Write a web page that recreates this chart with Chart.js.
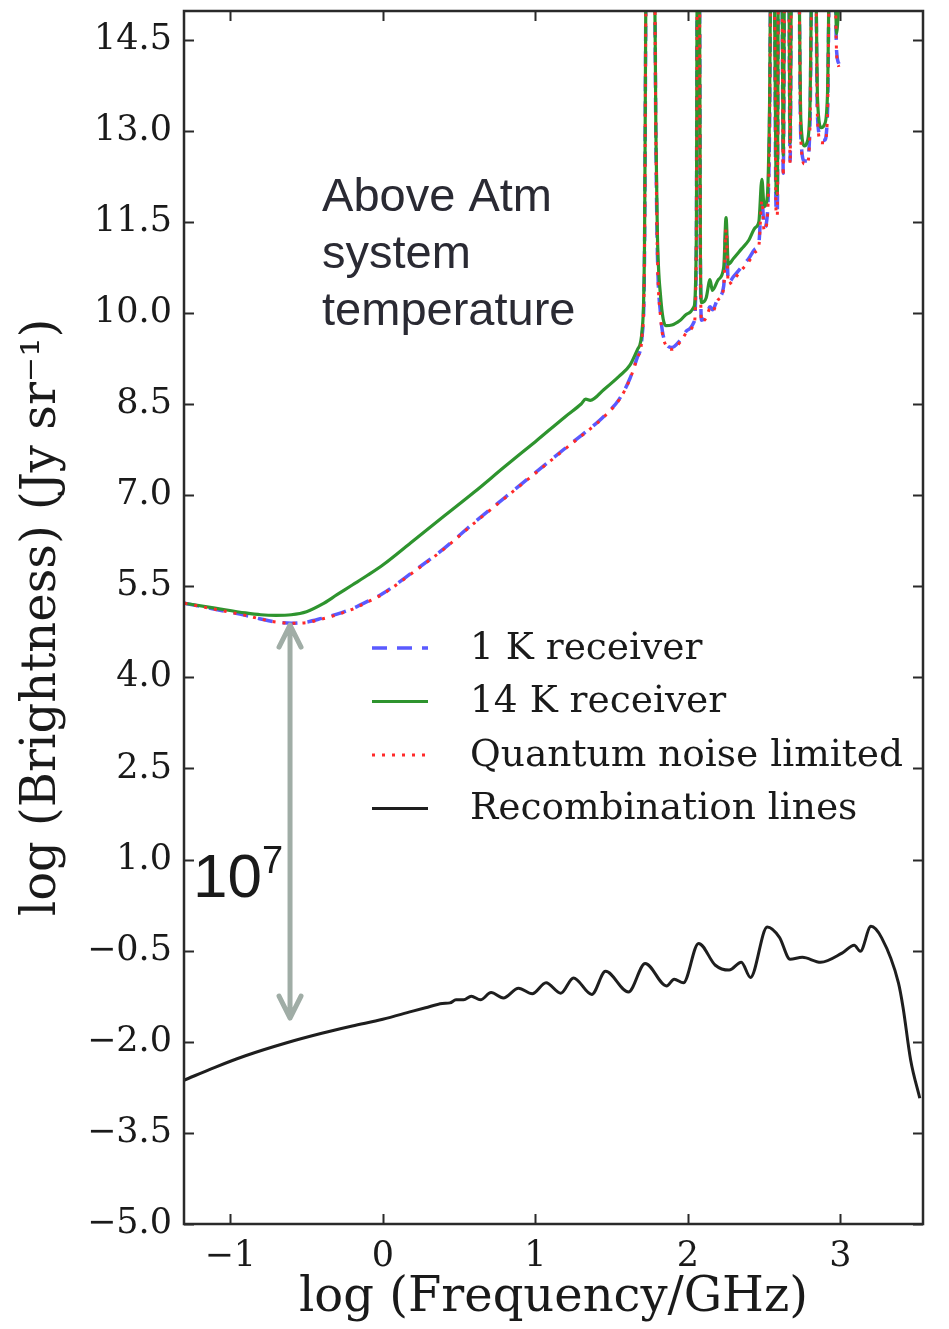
<!DOCTYPE html>
<html>
<head>
<meta charset="utf-8">
<script src="https://cdn.jsdelivr.net/npm/chart.js@4.4.1/dist/chart.umd.min.js"></script>
<style>
  html, body { margin: 0; padding: 0; background: #ffffff; }
  #wrap { width: 949px; height: 1329px; }
</style>
</head>
<body>
<div id="wrap"><canvas id="chart" width="949" height="1329"></canvas></div>
<script>
// log10 of frequency in GHz, shared by the three noise curves
const logFreq = [
  -1.30, -1.10, -0.90, -0.80, -0.70, -0.60, -0.50, -0.40, -0.30, -0.20, -0.10, 0.00,
  0.20, 0.40, 0.60, 0.80, 1.00, 1.20, 1.30, 1.33, 1.36, 1.45, 1.55, 1.62, 1.67, 1.70,
  1.715, 1.728, 1.78, 1.79, 1.80, 1.82, 1.855, 1.895, 1.95, 2.00, 2.04, 2.055, 2.062,
  2.075, 2.082, 2.09, 2.12, 2.145, 2.16, 2.20, 2.235, 2.25, 2.265, 2.30, 2.35, 2.40,
  2.44, 2.465, 2.485, 2.50, 2.52, 2.535, 2.545, 2.565, 2.578, 2.586, 2.594, 2.615,
  2.625, 2.635, 2.66, 2.67, 2.68, 2.725, 2.74, 2.765, 2.78, 2.80, 2.815, 2.835, 2.85,
  2.875, 2.895, 2.915, 2.93, 2.96, 2.975, 2.99
];

// log10 brightness sensitivity (Jy/sr), 1 K receiver
const sys1K = [
  5.22, 5.12, 5.02, 4.96, 4.91, 4.89, 4.91, 4.97, 5.04, 5.13, 5.25, 5.38,
  5.74, 6.12, 6.55, 6.96, 7.37, 7.78, 7.98, 8.04, 8.10, 8.30, 8.58, 8.92, 9.28, 9.63,
  10.8, 16, 16, 12.9, 11.0, 10.0, 9.50, 9.43, 9.55, 9.72, 9.85, 11.0, 16,
  16, 10.8, 9.88, 9.95, 10.10, 10.05, 10.25, 10.45, 11.40, 10.50, 10.60, 10.75, 10.90,
  11.05, 11.15, 11.90, 11.40, 11.60, 13.0, 16, 16, 11.70, 11.65, 16, 16,
  12.30, 16, 16, 12.50, 16, 16, 12.90, 12.50, 12.50, 13.10, 16, 16, 13.20,
  12.85, 12.84, 13.30, 16, 16, 14.30, 14.10
];

// 14 K receiver
const sys14K = [
  5.22, 5.14, 5.06, 5.03, 5.02, 5.03, 5.08, 5.20, 5.36, 5.52, 5.68, 5.85,
  6.25, 6.65, 7.05, 7.47, 7.88, 8.30, 8.50, 8.58, 8.56, 8.74, 8.96, 9.14, 9.40, 9.72,
  11.0, 16, 16, 13.0, 11.3, 10.3, 9.79, 9.80, 9.88, 9.99, 10.10, 11.2, 16,
  16, 11.0, 10.17, 10.25, 10.55, 10.37, 10.55, 10.75, 11.57, 10.80, 10.90, 11.05, 11.20,
  11.40, 11.50, 12.20, 11.75, 11.90, 13.4, 16, 16, 12.00, 11.95, 16, 16,
  12.60, 16, 16, 12.80, 16, 16, 13.20, 12.75, 12.80, 13.40, 16, 16, 13.50,
  13.05, 13.10, 13.60, 16, 16, 14.60, 15.20
];

// quantum noise limited receiver
const quantumLimit = [
  5.22, 5.12, 5.02, 4.96, 4.91, 4.89, 4.90, 4.96, 5.03, 5.12, 5.24, 5.37,
  5.73, 6.11, 6.54, 6.95, 7.36, 7.77, 7.97, 8.03, 8.09, 8.29, 8.57, 8.91, 9.27, 9.62,
  10.8, 16, 16, 12.85, 10.95, 9.95, 9.47, 9.40, 9.52, 9.69, 9.82, 11.0, 16,
  16, 10.8, 9.85, 9.92, 10.07, 10.02, 10.22, 10.42, 11.38, 10.47, 10.55, 10.70, 10.85,
  11.00, 11.10, 11.85, 11.35, 11.55, 12.95, 16, 16, 11.65, 11.60, 16, 16,
  12.25, 16, 16, 12.45, 16, 16, 12.85, 12.45, 12.45, 13.05, 16, 16, 13.15,
  12.80, 12.80, 13.25, 16, 16, 14.25, 14.05
];

// radio recombination line brightness
const recombLogFreq = [
  -1.30, -1.10, -0.90, -0.635, -0.40, -0.20, 0.00, 0.19, 0.28, 0.39, 0.44, 0.48, 0.53,
  0.58, 0.64, 0.71, 0.79, 0.89, 0.98, 1.07, 1.167, 1.25, 1.37, 1.46, 1.61, 1.72, 1.86,
  1.91, 1.97, 2.07, 2.18, 2.27, 2.35, 2.41, 2.52, 2.60, 2.67, 2.75, 2.87, 3.01, 3.09,
  3.13, 3.20, 3.27, 3.38, 3.41, 3.46, 3.52
];
const recombBright = [
  -2.63, -2.42, -2.23, -2.02, -1.86, -1.74, -1.63, -1.50, -1.44, -1.37, -1.36, -1.31, -1.31,
  -1.25, -1.31, -1.19, -1.28, -1.12, -1.21, -1.03, -1.20, -0.95, -1.22, -0.84, -1.18, -0.71, -1.08,
  -0.97, -1.03, -0.38, -0.74, -0.82, -0.69, -0.94, -0.11, -0.28, -0.64, -0.61, -0.69, -0.54, -0.41,
  -0.51, -0.10, -0.29, -1.03, -1.43, -2.30, -2.93
];

const seriesNames = ['1 K receiver', '14 K receiver', 'Quantum noise limited', 'Recombination lines'];
const xTicks = [-1, 0, 1, 2, 3];
const yTicks = [-5.0, -3.5, -2.0, -0.5, 1.0, 2.5, 4.0, 5.5, 7.0, 8.5, 10.0, 11.5, 13.0, 14.5];
const xRange = [-1.303, 3.541];
const yRange = [-5.0, 14.97];

// annotation anchors in data units
const noteLines = ['Above Atm', 'system', 'temperature'];
const noteAnchor = { x: -0.398, y: 11.67 };
const gapArrow = { x: -0.608, yTop: 4.86, yBottom: -1.61 };
const gapLabel = { base: '10', exp: '7', x: -1.244, y: 0.383 };

const INK = '#1a1a1a';
const SERIF = "'DejaVu Serif', serif";
const SANS = "'Liberation Sans', Arial, sans-serif";

const pairs = (xs, ys) => xs.map((x, i) => ({ x: x, y: ys[i] }));
const minus = s => s.replace('-', '\u2212');

// axes frame with inward ticks on all four sides
const frameTicks = {
  id: 'frameTicks',
  afterDatasetsDraw(chart) {
    const { ctx, chartArea: a, scales: { x, y } } = chart;
    const len = 10;
    ctx.save();
    ctx.strokeStyle = '#2a2a2a';
    ctx.lineWidth = 2;
    ctx.beginPath();
    xTicks.forEach(v => {
      const px = Math.round(x.getPixelForValue(v)) + 0.5;
      ctx.moveTo(px, a.bottom); ctx.lineTo(px, a.bottom - len);
      ctx.moveTo(px, a.top); ctx.lineTo(px, a.top + len);
    });
    yTicks.forEach(v => {
      const py = Math.round(y.getPixelForValue(v)) + 0.5;
      ctx.moveTo(a.left, py); ctx.lineTo(a.left + len, py);
      ctx.moveTo(a.right, py); ctx.lineTo(a.right - len, py);
    });
    ctx.stroke();
    ctx.lineWidth = 2.5;
    ctx.strokeRect(a.left, a.top, a.right - a.left, a.bottom - a.top);
    ctx.restore();
  }
};

// legend, text note and the vertical gap arrow
const overlays = {
  id: 'overlays',
  afterDraw(chart) {
    const { ctx, chartArea: a, scales: { x, y } } = chart;
    ctx.save();

    // legend
    const hx0 = a.left + 188, hx1 = a.left + 244, tx = a.left + 286;
    const row0 = a.top + 637, rowStep = 53.5;
    ctx.font = '37.5px ' + SERIF;
    ctx.textBaseline = 'middle';
    ctx.textAlign = 'left';
    chart.data.datasets.forEach((ds, i) => {
      const ry = row0 + i * rowStep;
      ctx.save();
      ctx.strokeStyle = ds.borderColor;
      ctx.lineWidth = ds.borderWidth;
      ctx.setLineDash(ds.borderDash || []);
      ctx.lineCap = 'butt';
      ctx.beginPath();
      ctx.moveTo(hx0, ry); ctx.lineTo(hx1, ry);
      ctx.stroke();
      ctx.restore();
      ctx.fillStyle = INK;
      ctx.fillText(ds.label, tx, ry + 1);
    });

    // text note
    ctx.font = '47px ' + SANS;
    ctx.fillStyle = '#2a2a33';
    ctx.textBaseline = 'alphabetic';
    const nx = x.getPixelForValue(noteAnchor.x), ny = y.getPixelForValue(noteAnchor.y);
    noteLines.forEach((t, i) => ctx.fillText(t, nx, ny + i * 57));

    // gap arrow
    const ax = x.getPixelForValue(gapArrow.x);
    const ay0 = y.getPixelForValue(gapArrow.yTop), ay1 = y.getPixelForValue(gapArrow.yBottom);
    ctx.strokeStyle = '#a0ada6';
    ctx.lineWidth = 5;
    ctx.lineCap = 'round';
    ctx.lineJoin = 'round';
    ctx.beginPath();
    ctx.moveTo(ax, ay0 + 2); ctx.lineTo(ax, ay1 - 2);
    ctx.moveTo(ax - 11, ay0 + 22); ctx.lineTo(ax, ay0); ctx.lineTo(ax + 11, ay0 + 22);
    ctx.moveTo(ax - 11, ay1 - 22); ctx.lineTo(ax, ay1); ctx.lineTo(ax + 11, ay1 - 22);
    ctx.stroke();

    // gap label
    const gx = x.getPixelForValue(gapLabel.x), gy = y.getPixelForValue(gapLabel.y);
    ctx.fillStyle = INK;
    ctx.font = '62px ' + SANS;
    ctx.fillText(gapLabel.base, gx, gy);
    const w = ctx.measureText(gapLabel.base).width;
    ctx.font = '38px ' + SANS;
    ctx.fillText(gapLabel.exp, gx + w, gy - 24);

    ctx.restore();
  }
};

new Chart(document.getElementById('chart'), {
  type: 'line',
  data: {
    datasets: [
      {
        label: seriesNames[0], data: pairs(logFreq, sys1K),
        borderColor: '#5a5aff', borderWidth: 3.5, borderDash: [15, 10], order: 4
      },
      {
        label: seriesNames[1], data: pairs(logFreq, sys14K),
        borderColor: '#2e942e', borderWidth: 3.2, order: 3
      },
      {
        label: seriesNames[2], data: pairs(logFreq, quantumLimit),
        borderColor: '#ff2a2a', borderWidth: 3, borderDash: [3, 7], order: 2
      },
      {
        label: seriesNames[3], data: pairs(recombLogFreq, recombBright),
        borderColor: '#1e1e1e', borderWidth: 3, order: 1
      }
    ]
  },
  options: {
    responsive: false,
    animation: false,
    devicePixelRatio: 1,
    layout: { padding: { left: 0, right: 26, top: 11, bottom: 0 } },
    elements: {
      point: { radius: 0 },
      line: {
        cubicInterpolationMode: 'monotone', fill: false,
        borderCapStyle: 'butt', borderJoinStyle: 'round'
      }
    },
    plugins: { legend: { display: false }, tooltip: { enabled: false } },
    scales: {
      x: {
        type: 'linear', min: xRange[0], max: xRange[1],
        grid: { display: false, drawTicks: false },
        border: { display: false },
        afterBuildTicks: s => { s.ticks = xTicks.map(v => ({ value: v })); },
        afterFit: s => { s.height = 105; s.paddingLeft = 0; s.paddingRight = 0; },
        ticks: {
          color: INK, padding: 12, font: { family: SERIF, size: 35 },
          maxRotation: 0, autoSkip: false,
          callback: v => minus(String(v))
        },
        title: {
          display: true, text: 'log (Frequency/GHz)', color: INK,
          font: { family: SERIF, size: 48 }, padding: { top: 0, bottom: 2 }
        }
      },
      y: {
        type: 'linear', min: yRange[0], max: yRange[1],
        grid: { display: false, drawTicks: false },
        border: { display: false },
        afterBuildTicks: s => { s.ticks = yTicks.map(v => ({ value: v })); },
        afterFit: s => { s.width = 184; s.paddingTop = 0; s.paddingBottom = 0; },
        ticks: {
          color: INK, padding: 12, font: { family: SERIF, size: 35 },
          autoSkip: false,
          callback: v => minus(Number(v).toFixed(1))
        },
        title: {
          display: true, text: 'log (Brightness) (Jy sr\u207B\u00B9)', color: INK,
          font: { family: SERIF, size: 48 }, padding: { top: 14, bottom: 0 }
        }
      }
    }
  },
  plugins: [frameTicks, overlays]
});
</script>
</body>
</html>
